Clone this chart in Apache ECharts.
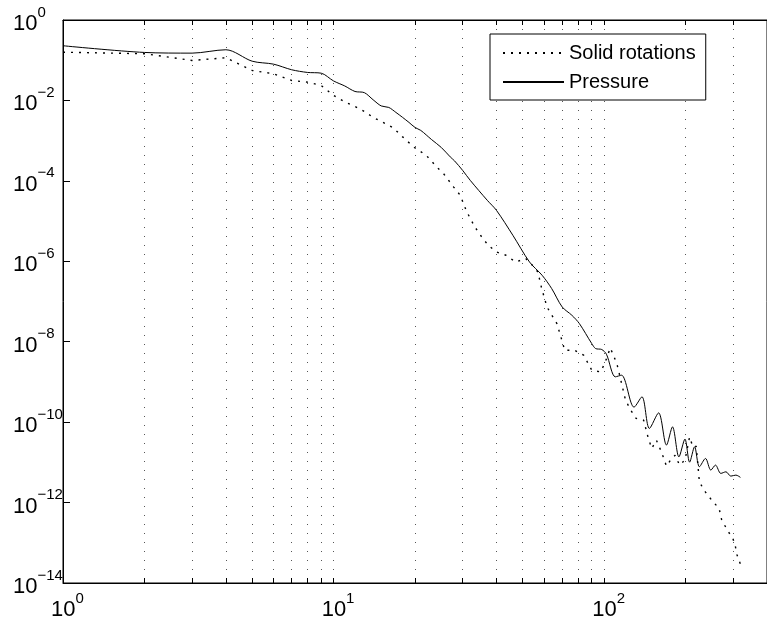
<!DOCTYPE html>
<html>
<head>
<meta charset="utf-8">
<script src="https://cdn.jsdelivr.net/npm/echarts@6/dist/echarts.min.js"></script>
<style>html,body{margin:0;padding:0;background:#fff}#c{width:767px;height:624px}</style>
</head>
<body>
<div id="c"></div>
<script>
// Wavenumber positions and spectra
const kSolid = [1,2,3,4,5,6,7,8,9,10,11,12,13,14,15,16.6,18,19.8,22,24.2,25.5,27.8,29.4,31,33.3,35.3,37.3,40,43.4,47.1,51.3,54.3,56.9,58.8,61.5,64.1,66.9,69.8,71.5,77.6,84,90,97,100.6,105.4,109,111.8,116,120,125.5,131.3,140,145.7,150,156,163,170,176,183,190,199,207,213,219,225,237,251,266,272,288,298,305,310,319];
const solidRot = [0.158,0.145,0.0986,0.115,0.0556,0.046,0.0314,0.0285,0.0236,0.0133,9.18e-3,7.1e-3,5.33e-3,3.78e-3,3.01e-3,2.1e-3,1.24e-3,6.92e-4,4.31e-4,2.13e-4,1.51e-4,7.0e-5,4.37e-5,1.75e-5,7.1e-6,4.02e-6,2.5e-6,1.7e-6,1.41e-6,9.6e-7,1.17e-6,7.96e-7,5.42e-7,2.1e-7,7.3e-8,4.55e-8,2.83e-8,1.09e-8,6.15e-9,6.15e-9,4.62e-9,1.96e-9,1.78e-9,2.92e-9,7.0e-9,4.12e-9,2.61e-9,9.3e-10,3.52e-10,1.99e-10,1.24e-10,1.12e-10,3.94e-11,2.22e-11,3.57e-11,1.8e-11,8.1e-12,1.14e-11,1.51e-11,8.55e-12,1.14e-11,4.27e-11,2.4e-11,2.51e-11,3.24e-12,1.82e-12,1.1e-12,7.2e-13,3.7e-13,1.86e-13,1.38e-13,8.7e-14,5.0e-14,2.95e-14];

const kPress = [1,2,3,4,5,6,7,8,9,10,11,12,13,14,15,16,17,18,19,20,21,22,23,25,27,28,30,32,37,40,46,53,59,64,70,76,81,90,93,98,102,110,116,129,138,147,159,170,179,189,199,207,216,225,237,248,258,270,282,294,307,319];
const pressure = [0.229,0.156,0.150,0.182,0.0946,0.0798,0.0579,0.0497,0.0476,0.0305,0.0229,0.0167,0.0156,0.0104,7.3e-3,6.7e-3,5.04e-3,3.78e-3,2.84e-3,2.13e-3,1.8e-3,1.39e-3,1.07e-3,6.79e-4,3.94e-4,3.14e-4,1.82e-4,1.03e-4,3.28e-5,1.85e-5,4.43e-6,9.6e-7,4.49e-7,2.1e-7,7.31e-8,4.55e-8,2.83e-8,9.0e-9,6.76e-9,6.4e-9,4.89e-9,1.34e-9,1.47e-9,2.36e-10,4.26e-10,6.97e-11,1.7e-10,2.69e-11,7.64e-11,1.37e-11,3.78e-11,1.01e-11,2.44e-11,7.76e-12,1.25e-11,6.41e-12,8.55e-12,5.31e-12,5.82e-12,4.55e-12,4.82e-12,4.23e-12];

const seriesNames = ['Solid rotations', 'Pressure'];
const xLabelValues = [1, 10, 100];
const xGridValues = [1,2,3,4,5,6,7,8,9,10,20,30,40,50,60,70,80,90,100,200,300];

const FONT = '"Liberation Sans", Arial, Helvetica, sans-serif';
function expLabel(v) {
  const e = Math.round(Math.log10(v));
  return '{b|10}{s|' + (e < 0 ? '\u2212' + (-e) : e) + '}';
}
const rich = {
  b: {fontSize: 22, fontFamily: FONT, color: '#000', lineHeight: 30, verticalAlign: 'bottom'},
  s: {fontSize: 15, fontFamily: FONT, color: '#000', verticalAlign: 'top'}
};
const richX = {
  b: Object.assign({}, rich.b, {padding: [0, 0, 0, 9]}),
  s: rich.s
};

const chart = echarts.init(document.getElementById('c'), null, {renderer: 'canvas'});
chart.setOption({
  animation: false,
  backgroundColor: '#fff',
  grid: {left: 63, top: 20, width: 715.6, height: 563, show: true, borderColor: '#000', borderWidth: 1, backgroundColor: 'transparent'},
  legend: {
    orient: 'vertical', left: 490, top: 34,
    padding: [9, 10, 8, 12],
    itemWidth: 61, itemHeight: 14, itemGap: 9,
    borderColor: '#000', borderWidth: 1, backgroundColor: '#fff',
    itemStyle: {color: 'rgba(0,0,0,0)', borderWidth: 0, opacity: 0},
    textStyle: {fontSize: 20, fontFamily: FONT, color: '#000', lineHeight: 20},
    data: seriesNames
  },
  xAxis: [{
    type: 'log', logBase: 10, min: 1, max: 400, position: 'bottom',
    axisLine: {show: true, lineStyle: {color: '#000', width: 1}},
    axisTick: {show: true, inside: true, length: 5, customValues: xGridValues, lineStyle: {color: '#000'}},
    axisLabel: {customValues: xLabelValues, formatter: expLabel, rich: richX, margin: 8},
    splitLine: {show: true, lineStyle: {color: '#555', width: 1, type: [1, 8]}}
  }, {
    type: 'log', logBase: 10, min: 1, max: 400, position: 'top',
    axisLine: {show: true, lineStyle: {color: '#000', width: 1}},
    axisTick: {show: true, inside: true, length: 5, customValues: xGridValues, lineStyle: {color: '#000'}},
    axisLabel: {show: false},
    splitLine: {show: false}
  }],
  yAxis: {
    type: 'log', logBase: 10, min: 1e-14, max: 1, interval: 2,
    axisLine: {show: true, lineStyle: {color: '#000', width: 1}},
    axisTick: {show: true, inside: true, length: 7, lineStyle: {color: '#000'}},
    axisLabel: {formatter: expLabel, rich: rich, align: 'left', margin: 50},
    splitLine: {show: false}
  },
  series: [{
    name: seriesNames[0], type: 'line', symbol: 'none', smooth: false,
    data: kSolid.map((k, i) => [k, solidRot[i]]),
    lineStyle: {color: '#000', width: 1.4, type: [2, 6]},
    itemStyle: {color: '#000'}
  }, {
    name: seriesNames[1], type: 'line', symbol: 'none', smooth: 0.3,
    data: kPress.map((k, i) => [k, pressure[i]]),
    lineStyle: {color: '#000', width: 1},
    itemStyle: {color: '#000'}
  }]
});
</script>
</body>
</html>
